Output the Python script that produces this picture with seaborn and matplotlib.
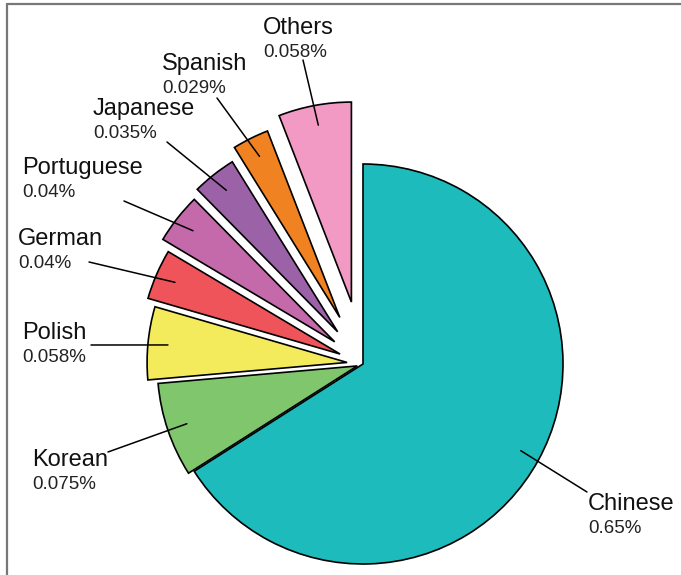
import numpy as np
import seaborn as sns
import matplotlib.pyplot as plt
from matplotlib.lines import Line2D

# data
languages = ['Chinese', 'Korean', 'Polish', 'German', 'Portuguese', 'Japanese', 'Spanish', 'Others']
shares = [0.65, 0.075, 0.058, 0.04, 0.04, 0.035, 0.029, 0.058]
pct_labels = ['0.65%', '0.075%', '0.058%', '0.04%', '0.04%', '0.035%', '0.029%', '0.058%']
hex_colors = ['#1dbbbb', '#80c66d', '#f3eb5b', '#ee5459', '#c46aab', '#9c62a8', '#f18222', '#f299c4']

# style
explode = [0.0, 0.03, 0.08, 0.125, 0.18, 0.205, 0.26, 0.315]

# label text: left x, name baseline y, leader end (x, y) -- in image pixels from top-left
label_pos = {
    'Chinese':    (588, 510, (587, 492)),
    'Korean':     (32, 466, (108, 452)),
    'Polish':     (22, 339, (91, 345)),
    'German':     (18, 245, (89, 262)),
    'Portuguese': (22, 174, (124, 201)),
    'Japanese':   (93, 115, (167, 142)),
    'Spanish':    (162, 70, (217, 98)),
    'Others':     (263, 34, (303, 60)),
}

sns.set_theme(style="white")
plt.rcParams['font.family'] = ['Liberation Sans', 'DejaVu Sans']

W, H = 681, 575
cx, cy, R = 363, 364, 200   # pie centre / radius in pixels


def to_data(px, py):
    return (px - cx) / R, (cy - py) / R


fig = plt.figure(figsize=(W / 100, H / 100), dpi=100)
ax = fig.add_axes([0, 0, 1, 1])

palette = sns.color_palette(hex_colors)
wedges, _ = ax.pie(shares, colors=palette, explode=explode, startangle=90,
                   counterclock=False, radius=1,
                   wedgeprops=dict(edgecolor='black', linewidth=1.2))

for w, name, pct in zip(wedges, languages, pct_labels):
    mid = np.deg2rad((w.theta1 + w.theta2) / 2)
    x0 = w.center[0] + 0.9 * w.r * np.cos(mid)
    y0 = w.center[1] + 0.9 * w.r * np.sin(mid)
    tx, ty, (ex, ey) = label_pos[name]
    x1, y1 = to_data(ex, ey)
    ax.plot([x0, x1], [y0, y1], color='black', lw=1.1)
    nx, ny = to_data(tx, ty)
    ax.text(nx, ny, name, fontsize=17, ha='left', va='baseline', color='#111111')
    ax.text(nx, ny - 23 / R, pct, fontsize=13.5, ha='left', va='baseline', color='#222222')

ax.set_xlim(-cx / R, (W - cx) / R)
ax.set_ylim(-(H - cy) / R, cy / R)
ax.set_aspect('equal', adjustable='datalim')
ax.axis('off')

# grey frame (left and top edges)
fx = 7 / W
fy = 1 - 4 / H
fig.add_artist(Line2D([fx, fx], [0, fy], transform=fig.transFigure, color='#777777', lw=1.6))
fig.add_artist(Line2D([fx, 1], [fy, fy], transform=fig.transFigure, color='#777777', lw=1.6))

fig.savefig('out.png', dpi=100)
